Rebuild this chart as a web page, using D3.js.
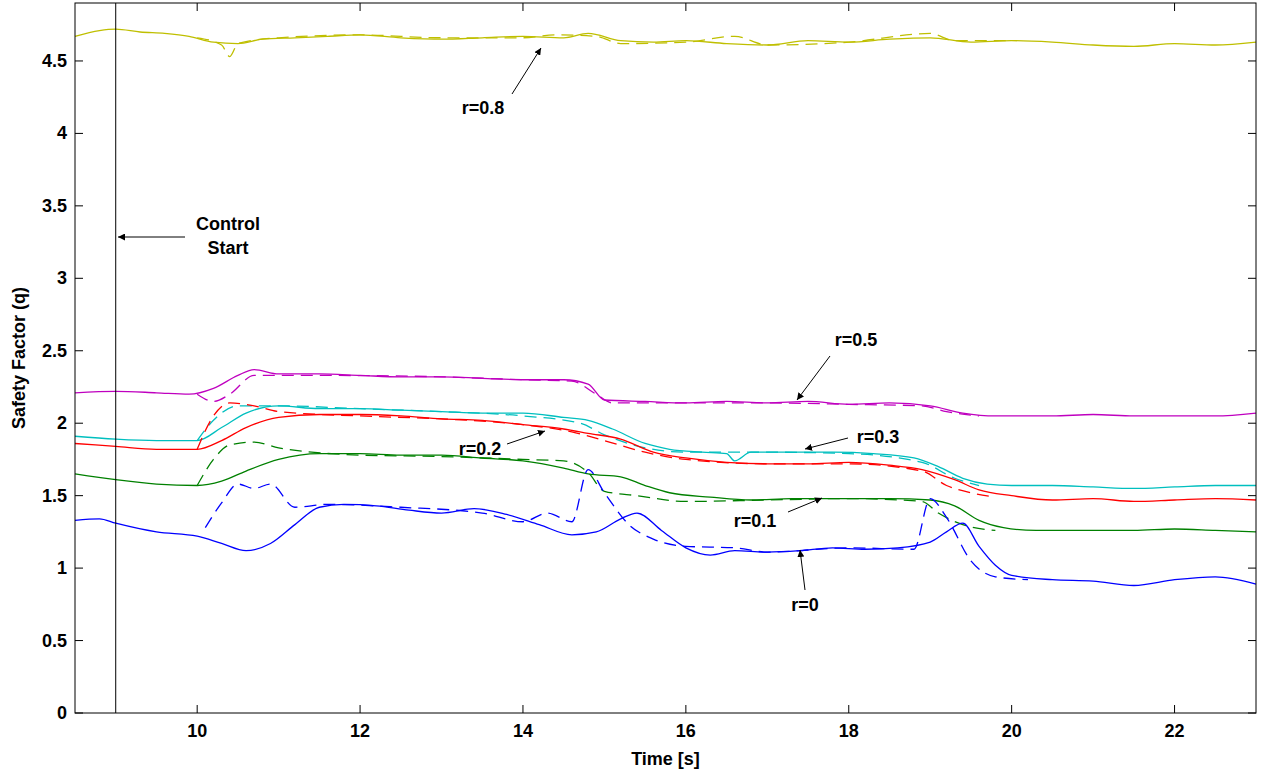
<!DOCTYPE html>
<html><head><meta charset="utf-8">
<script src="https://cdn.jsdelivr.net/npm/d3@7"></script>
<style>body{margin:0;background:#fff}text{font-family:"Liberation Sans",Arial,sans-serif;font-weight:bold}</style>
</head><body>
<script>
var width = 1262, height = 775
var xTicks = [10, 12, 14, 16, 18, 20, 22]
var yTicks = [0, 0.5, 1, 1.5, 2, 2.5, 3, 3.5, 4, 4.5]

// [time, q] pairs
var r08 = [[8.5,4.67],[8.8,4.71],[9,4.72],[9.3,4.70],[9.6,4.69],[9.9,4.67],[10.2,4.63],[10.5,4.62],[10.8,4.65],[11.2,4.66],[11.6,4.67],[12,4.68],[12.5,4.66],[13,4.65],[13.5,4.66],[14,4.67],[14.5,4.66],[14.8,4.69],[15.2,4.64],[15.6,4.63],[16,4.64],[16.5,4.62],[17,4.61],[17.5,4.64],[18,4.63],[18.5,4.65],[19,4.66],[19.5,4.63],[20,4.64],[20.5,4.63],[21,4.61],[21.5,4.60],[22,4.62],[22.5,4.61],[23,4.63]]
var r08d = [[10,4.66],[10.3,4.61],[10.4,4.53],[10.5,4.62],[11,4.66],[12,4.68],[13,4.66],[14,4.66],[14.4,4.68],[14.9,4.67],[15.2,4.62],[16,4.63],[16.6,4.67],[17,4.61],[18,4.63],[19,4.69],[19.3,4.64],[20,4.64]]
var r05 = [[8.5,2.21],[9,2.22],[9.5,2.21],[9.9,2.20],[10.2,2.24],[10.5,2.33],[10.7,2.37],[11,2.34],[11.5,2.34],[12,2.33],[12.5,2.32],[13,2.32],[13.5,2.31],[14,2.30],[14.5,2.30],[14.8,2.27],[15,2.16],[15.5,2.15],[16,2.14],[16.5,2.15],[17,2.14],[17.5,2.15],[18,2.13],[18.5,2.14],[19,2.12],[19.4,2.07],[19.8,2.05],[20.5,2.05],[21,2.06],[21.5,2.05],[22,2.05],[22.5,2.05],[23,2.07]]
var r05d = [[10,2.20],[10.2,2.15],[10.4,2.20],[10.7,2.33],[11.5,2.33],[13,2.32],[14,2.30],[14.6,2.29],[14.9,2.20],[15.1,2.14],[16,2.14],[17,2.14],[18,2.13],[18.9,2.12],[19.2,2.08],[19.6,2.05]]
var r03 = [[8.5,1.91],[9,1.89],[9.5,1.88],[10,1.88],[10.3,1.97],[10.6,2.07],[11,2.12],[11.5,2.10],[12,2.10],[12.5,2.09],[13,2.08],[13.5,2.07],[14,2.07],[14.5,2.04],[14.8,2.02],[15.1,1.96],[15.5,1.86],[15.8,1.82],[16.2,1.80],[16.5,1.79],[16.6,1.74],[16.8,1.80],[17.2,1.80],[17.8,1.80],[18.3,1.79],[18.8,1.76],[19.1,1.70],[19.4,1.62],[19.7,1.58],[20,1.57],[20.5,1.57],[21,1.56],[21.5,1.55],[22,1.56],[22.5,1.57],[23,1.57]]
var r03d = [[10,1.88],[10.2,2.02],[10.5,2.12],[11,2.12],[12,2.10],[13,2.08],[14,2.05],[14.7,2.00],[15,1.92],[15.5,1.83],[16,1.80],[17,1.80],[18,1.79],[18.9,1.73],[19.3,1.62],[19.6,1.57]]
var r02 = [[8.5,1.86],[9,1.84],[9.5,1.82],[10,1.82],[10.3,1.88],[10.6,1.97],[11,2.04],[11.5,2.06],[12,2.06],[12.5,2.05],[13,2.03],[13.5,2.02],[14,1.99],[14.5,1.96],[14.8,1.93],[15.2,1.89],[15.6,1.80],[16,1.76],[16.5,1.73],[17,1.72],[17.5,1.72],[18,1.73],[18.5,1.71],[18.9,1.68],[19.3,1.61],[19.6,1.54],[20,1.50],[20.5,1.47],[21,1.48],[21.5,1.46],[22,1.47],[22.5,1.48],[23,1.47]]
var r02d = [[10,1.82],[10.2,2.05],[10.4,2.14],[10.7,2.12],[11,2.08],[12,2.05],[13,2.03],[14,1.99],[14.6,1.94],[15,1.88],[15.5,1.80],[16,1.75],[17,1.72],[18,1.72],[18.9,1.67],[19.2,1.57],[19.5,1.52],[19.8,1.49]]
var r01 = [[8.5,1.65],[9,1.61],[9.5,1.58],[10,1.57],[10.3,1.60],[10.6,1.67],[11,1.75],[11.5,1.79],[12,1.79],[12.5,1.78],[13,1.78],[13.5,1.76],[14,1.74],[14.5,1.69],[14.8,1.65],[15.2,1.63],[15.5,1.57],[15.8,1.52],[16.3,1.49],[16.8,1.47],[17.3,1.48],[18,1.48],[18.5,1.48],[19,1.47],[19.3,1.43],[19.6,1.33],[19.9,1.28],[20.3,1.26],[21,1.26],[21.5,1.26],[22,1.27],[22.5,1.26],[23,1.25]]
var r01d = [[10,1.57],[10.2,1.75],[10.4,1.85],[10.7,1.87],[11,1.83],[12,1.78],[13,1.77],[14,1.75],[14.5,1.74],[14.8,1.66],[15,1.53],[15.4,1.50],[16,1.46],[17,1.47],[18,1.48],[18.9,1.46],[19.1,1.38],[19.4,1.30],[19.8,1.26]]
var r00 = [[8.5,1.33],[8.8,1.34],[9,1.31],[9.5,1.25],[10,1.22],[10.3,1.17],[10.6,1.12],[10.9,1.17],[11.2,1.30],[11.5,1.42],[11.8,1.44],[12.2,1.43],[12.6,1.40],[13,1.38],[13.4,1.41],[13.8,1.37],[14.2,1.30],[14.6,1.23],[14.9,1.25],[15.2,1.34],[15.4,1.38],[15.7,1.26],[16,1.14],[16.3,1.09],[16.6,1.12],[17,1.11],[17.4,1.12],[17.8,1.14],[18.2,1.13],[18.6,1.14],[19,1.18],[19.2,1.25],[19.4,1.31],[19.6,1.15],[19.8,1.02],[20,0.95],[20.5,0.92],[21,0.91],[21.5,0.88],[22,0.92],[22.5,0.94],[23,0.89]]
var r00d = [[10.1,1.28],[10.3,1.45],[10.5,1.58],[10.7,1.55],[10.9,1.58],[11.2,1.42],[11.6,1.44],[12.5,1.42],[13.5,1.38],[14,1.32],[14.3,1.38],[14.6,1.32],[14.8,1.68],[15,1.52],[15.3,1.30],[15.6,1.20],[16,1.15],[16.6,1.14],[17,1.11],[18,1.14],[18.8,1.13],[19,1.48],[19.2,1.35],[19.5,1.05],[19.8,0.94],[20.2,0.92]]

var series = [
  {solid: r08, dashed: r08d, color: "#bfbf00"},
  {solid: r05, dashed: r05d, color: "#bf00bf"},
  {solid: r03, dashed: r03d, color: "#00bfbf"},
  {solid: r02, dashed: r02d, color: "#ff0000"},
  {solid: r01, dashed: r01d, color: "#008000"},
  {solid: r00, dashed: r00d, color: "#0000ff"}
]

var pl = 75, pr = 1256, pt = 3, pb = 713
var x = d3.scaleLinear().domain([8.5, 23]).range([pl, pr])
var y = d3.scaleLinear().domain([0, 4.9]).range([pb, pt])

var svg = d3.select('body').append('svg').attr('width', width).attr('height', height)

svg.append('defs').append('marker').attr('id', 'ah')
  .attr('viewBox', '0 0 10 10').attr('refX', 10).attr('refY', 5)
  .attr('markerWidth', 7).attr('markerHeight', 7).attr('orient', 'auto')
  .append('path').attr('d', 'M0,0 L10,5 L0,10 z').attr('fill', 'black')

var line = d3.line().curve(d3.curveMonotoneX)
  .x(function (d) { return x(d[0]) }).y(function (d) { return y(d[1]) })

series.forEach(function (s) {
  svg.append('path').attr('d', line(s.dashed)).attr('fill', 'none')
    .attr('stroke', s.color).attr('stroke-width', 1.3).attr('stroke-dasharray', '12,7')
  svg.append('path').attr('d', line(s.solid)).attr('fill', 'none')
    .attr('stroke', s.color).attr('stroke-width', 1.3)
})

// control start line
svg.append('line').attr('x1', x(9)).attr('x2', x(9)).attr('y1', pt).attr('y2', pb)
  .attr('stroke', 'black').attr('stroke-width', 1)

// frame and ticks
svg.append('rect').attr('x', pl).attr('y', pt).attr('width', pr - pl).attr('height', pb - pt)
  .attr('fill', 'none').attr('stroke', 'black')
xTicks.forEach(function (t) {
  svg.append('line').attr('x1', x(t)).attr('x2', x(t)).attr('y1', pb).attr('y2', pb - 8).attr('stroke', 'black')
  svg.append('line').attr('x1', x(t)).attr('x2', x(t)).attr('y1', pt).attr('y2', pt + 8).attr('stroke', 'black')
  svg.append('text').attr('x', x(t)).attr('y', pb + 24).attr('text-anchor', 'middle').attr('font-size', 18).text(t)
})
yTicks.forEach(function (t) {
  svg.append('line').attr('x1', pl).attr('x2', pl + 8).attr('y1', y(t)).attr('y2', y(t)).attr('stroke', 'black')
  svg.append('line').attr('x1', pr).attr('x2', pr - 8).attr('y1', y(t)).attr('y2', y(t)).attr('stroke', 'black')
  svg.append('text').attr('x', pl - 8).attr('y', y(t) + 6).attr('text-anchor', 'end').attr('font-size', 18).text(t)
})
svg.append('text').attr('x', (pl + pr) / 2).attr('y', 765).attr('text-anchor', 'middle').attr('font-size', 18).text('Time [s]')
svg.append('text').attr('transform', 'translate(25,' + (pt + pb) / 2 + ') rotate(-90)')
  .attr('text-anchor', 'middle').attr('font-size', 18).text('Safety Factor (q)')

// annotations
var notes = [
  {lines: ['Control', 'Start'], tx: 228, ty: 230, x1: 185, y1: 237, x2: 118, y2: 237},
  {lines: ['r=0.8'], tx: 483, ty: 114, x1: 512, y1: 94, x2: 541, y2: 48},
  {lines: ['r=0.5'], tx: 856, ty: 346, x1: 830, y1: 356, x2: 797, y2: 400},
  {lines: ['r=0.3'], tx: 878, ty: 443, x1: 848, y1: 438, x2: 805, y2: 449},
  {lines: ['r=0.2'], tx: 480, ty: 455, x1: 507, y1: 444, x2: 545, y2: 431},
  {lines: ['r=0.1'], tx: 755, ty: 527, x1: 788, y1: 512, x2: 822, y2: 498},
  {lines: ['r=0'], tx: 805, ty: 611, x1: 805, y1: 590, x2: 800, y2: 550}
]
notes.forEach(function (n) {
  svg.append('line').attr('x1', n.x1).attr('y1', n.y1).attr('x2', n.x2).attr('y2', n.y2)
    .attr('stroke', 'black').attr('marker-end', 'url(#ah)')
  n.lines.forEach(function (l, i) {
    svg.append('text').attr('x', n.tx).attr('y', n.ty + i * 24).attr('text-anchor', 'middle')
      .attr('font-size', 18).text(l)
  })
})
</script>
</body></html>
